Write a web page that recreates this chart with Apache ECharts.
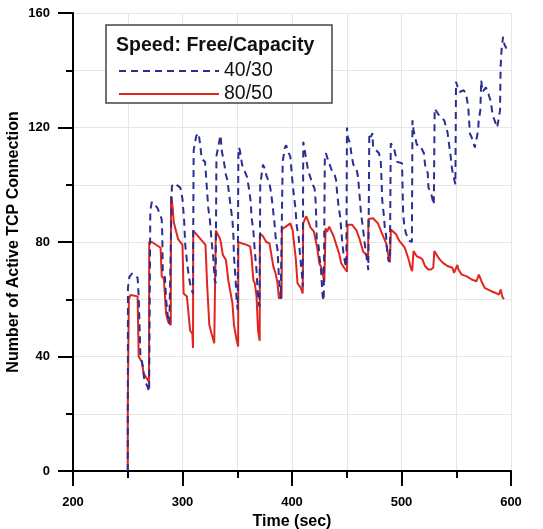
<!DOCTYPE html>
<html>
<head>
<meta charset="utf-8">
<script src="https://cdn.jsdelivr.net/npm/echarts@6/dist/echarts.min.js"></script>
<style>
html,body{margin:0;padding:0;background:#fff;}
#chart{width:543px;height:529px;}
</style>
</head>
<body>
<div id="chart"></div>
<script>
// ---- data ----
var seriesNames = ['40/30', '80/50'];
var legendTitle = 'Speed: Free/Capacity';
var xTitle = 'Time (sec)';
var yTitle = 'Number of Active TCP Connection';

var redTime = [250,250,251,252.5,259,260,263,264.5,268,269.4,
  269.6,272,280,281,283,285,287,289.3,
  289.5,291,292,296,300,301,304,307,309,309.6,
  309.8,312,321,322.5,324.5,326.5,329,330.2,
  330.4,332,334,335,336.8,339.7,341.8,344,345.6,347,349.4,350.8,
  351,354.4,358.8,361.8,363,364.7,366,367.6,369,370.5,
  370.7,373.5,376.5,379.4,383,385,386.8,388,390.5,
  390.8,394,398.5,400.6,403.5,405,408,409.8,
  410.2,413,417,420,423,425,427,429.5,430.4,
  430.7,432,434,438,441,443,445,447.6,450.3,
  450.7,455,459,462,465,469.5,
  469.8,474,478.5,481.5,486,487.6,489.5,
  490.3,495,498,501,503,505,507,508,509.7,511,514,517,519,521.5,524.4,527,529,530,532,534.7,537.6,542,546.5,548,549.4,551,552,555,559.7,564,568.5,570.6,573,576,579,582,586,589,590.6,592,593.5];
var redValue = [0,21,60,61.5,61,40,38,34,32,31,
  80,80,78,68,67,55,52,51,
  96,92,87,81,79,62,61,49,48,43,
  84,83,79,65,51,48,44.6,45,
  84,83.6,81.3,80,75.5,73.7,66.7,62,58.6,51,45.8,43.5,
  80,79.5,79,78.4,75,66.7,65.6,61,49,45.5,
  83,82,80,79.5,71.4,69,65.6,60.4,60.4,
  84.5,85.3,86.5,84,74,65.6,64,62,
  86.5,89,85,83.6,78,72.5,71,66,66,
  84.8,83.5,85.4,82,78.4,76,72.6,71,69.6,
  86,86,84,80.7,76.6,75,
  88,88.3,86.5,83.6,79.5,76,73.5,
  84.4,82.7,80.4,79,78,75.7,73.3,71.6,69.8,76.8,75,74.5,74,71.6,70.4,70.4,71,76.8,75.6,74,72.8,71.6,71,69.2,68.6,72,70.4,68.6,68,66.9,66.3,68.6,66.3,64,63.4,62.8,62.2,61.6,63.4,61,60];

var blueTime = [250,250.2,251.5,254,259,260,261.5,264,265,268,269.5,
  270.6,272,277,281,281.5,282,284,285,287,288,289.6,
  290.3,292.6,298,300,301.5,302.5,304.4,306,307.4,309.5,
  310.2,312.5,314.7,316,317.6,320.6,323.5,325,326.5,328,329.4,330.3,
  331,334,334.7,336,337.6,339.7,341,344,345.6,346.5,347,348.5,349.4,350.4,
  351,351.5,352.4,354.4,358.8,361,362.4,363,364.7,366,367.6,369,370.4,
  371,373.5,375,377,379.4,381,382.4,384,385.3,386.8,388,389.7,390.7,
  391.5,393.5,394.7,396.5,398.5,400,401.5,403,404.4,406,407.4,409,409.8,
  410.3,411.8,412.6,413.8,414.7,417.6,419,420.6,421.5,422,422.6,424.4,425,426.5,427.4,428,429,
  430,431,432.4,436.8,439,440.3,441,442.6,444,445,446,447,448.5,449.6,
  450.2,451,453,454.4,456,458.8,460.3,461.8,463,464.7,466,467.6,468.5,469.7,
  470.6,472,473.5,474,479.4,481,481.8,482.4,484,484.7,486,486.8,488,489.4,
  490.2,491,493,496,500.5,501.5,502.5,504,507,509.5,
  510,511,514,517,520.5,521.5,524,524.6,527,529.5,
  530.3,532,534.7,539,540.6,542,543,545,546,547,549.2,
  549.8,551,553,556.7,558.8,561,561.7,562.6,564,567,568.4,570,570.5,572,
  572.8,574,577,578.6,580,581.6,583,584,587.4,589,590,590.5,591.5,592.8,594,595.8];
var blueValue = [0,64,67.8,69,67.5,61,41,36,32,29.5,27.7,
  91,94,92,88,83,70,67.5,60,52.7,51.5,51,
  99.5,100.5,99,95,87.5,79,72,67.5,64.5,62,
  112,117,118,114.4,109,108,92,87.7,80.7,75,66.7,65.6,
  110,116,117.3,111.5,108.6,103.4,101.6,92.3,87.7,82,75,66.7,59.8,56.3,
  110,113,112,107,102.8,98,93.5,88.8,84,77,70,59.8,57.4,
  100,107,105.7,102.8,100.5,97,92.3,86.5,80.7,77.2,68,60.3,60,
  108,113,113.8,111.5,109.8,102.8,97,92.3,85.3,82,75,69,64.4,
  115,115,109.8,109.2,105,101.6,100,98.7,94.6,90,80.7,78.4,75,70.2,64.4,61,59.5,
  110.3,111,109.2,104.5,103.4,101.6,98,92.3,88.8,84,79.5,76,72.6,71.4,
  120,116.7,114.4,110.3,107,105.7,102.8,95.8,90,85.3,80.7,76,73.7,70.2,
  118,116.7,118,113.3,111,108.6,101.6,94.6,88.8,85.3,82,77.2,73.7,73,
  114.5,115,113,108,107.5,90,86,83,80.5,80,
  122.5,119,114,113.7,111,107,104,99,97,93,
  126.6,126.6,124,122.5,122.5,118.4,115.4,109.6,106,103.7,100.2,
  136,134.5,132.4,133,132,127,122.5,117.8,116.6,113,112.5,119,122.5,126,
  136.5,132.4,134,133,131,129,125,123.6,120,119.5,126,141,148,151.7,149,147.6];

var xMin = 200, xMax = 600, xStep = 100;
var yMin = 0, yMax = 160, yStep = 40;

function pairs(t, v) { return t.map(function (x, i) { return [x, v[i]]; }); }

var FONT = '"Liberation Sans", Arial, sans-serif';
var chart = echarts.init(document.getElementById('chart'), null, {renderer: 'canvas'});
chart.setOption({
  backgroundColor: '#ffffff',
  animation: false,
  textStyle: {fontFamily: FONT},
  grid: {left: 73, right: 32, top: 13, bottom: 58, containLabel: false, outerBoundsMode: 'none'},
  xAxis: {
    type: 'value', min: xMin, max: xMax, interval: xStep,
    name: xTitle, nameLocation: 'middle', nameGap: 40,
    nameTextStyle: {fontFamily: FONT, fontWeight: 'bold', fontSize: 16, color: '#000'},
    axisLine: {show: true, onZero: false, lineStyle: {color: '#000', width: 2}},
    axisTick: {show: true, length: 15, lineStyle: {color: '#000', width: 2}},
    minorTick: {show: true, splitNumber: 2, length: 7, lineStyle: {color: '#000', width: 2}},
    axisLabel: {margin: 25, fontFamily: FONT, fontWeight: 'bold', fontSize: 13, color: '#000'},
    splitLine: {show: true, lineStyle: {color: '#e6e6e6', width: 1}},
    minorSplitLine: {show: true, lineStyle: {color: '#e6e6e6', width: 1}}
  },
  yAxis: {
    type: 'value', min: yMin, max: yMax, interval: yStep,
    name: yTitle, nameLocation: 'middle', nameGap: 51, nameRotate: 90, nameMoveOverlap: false,
    nameTextStyle: {fontFamily: FONT, fontWeight: 'bold', fontSize: 16, color: '#000'},
    axisLine: {show: true, onZero: false, lineStyle: {color: '#000', width: 2}},
    axisTick: {show: true, length: 15, lineStyle: {color: '#000', width: 2}},
    minorTick: {show: true, splitNumber: 2, length: 7, lineStyle: {color: '#000', width: 2}},
    axisLabel: {margin: 23, fontFamily: FONT, fontWeight: 'bold', fontSize: 13, color: '#000'},
    splitLine: {show: true, lineStyle: {color: '#e6e6e6', width: 1}},
    minorSplitLine: {show: true, lineStyle: {color: '#e6e6e6', width: 1}}
  },
  graphic: [
    {type: 'rect', z: 3, shape: {x: 106, y: 25, width: 226, height: 78},
     style: {fill: '#fff', stroke: '#444', lineWidth: 1.5}},
    {type: 'text', z: 4, x: 116, y: 46,
     style: {text: legendTitle, font: 'bold 19.5px ' + FONT, fill: '#111', verticalAlign: 'middle'}}
  ],
  legend: {
    data: seriesNames, orient: 'vertical', left: 118, top: 61, z: 5,
    itemWidth: 100, itemHeight: 14, itemGap: 3, padding: 0,
    itemStyle: {color: 'rgba(0,0,0,0)', opacity: 0, borderWidth: 0},
    textStyle: {fontFamily: FONT, fontSize: 19.5, color: '#111', lineHeight: 20}
  },
  series: [
    {name: seriesNames[1], type: 'line', symbol: 'none', showSymbol: false,
     data: pairs(redTime, redValue),
     lineStyle: {color: '#e0261f', width: 2}, itemStyle: {color: '#e0261f'}, z: 2},
    {name: seriesNames[0], type: 'line', symbol: 'none', showSymbol: false,
     data: pairs(blueTime, blueValue),
     lineStyle: {color: '#2b2f8f', width: 2, type: [7, 5]}, itemStyle: {color: '#2b2f8f'}, z: 3}
  ]
});
</script>
</body>
</html>
